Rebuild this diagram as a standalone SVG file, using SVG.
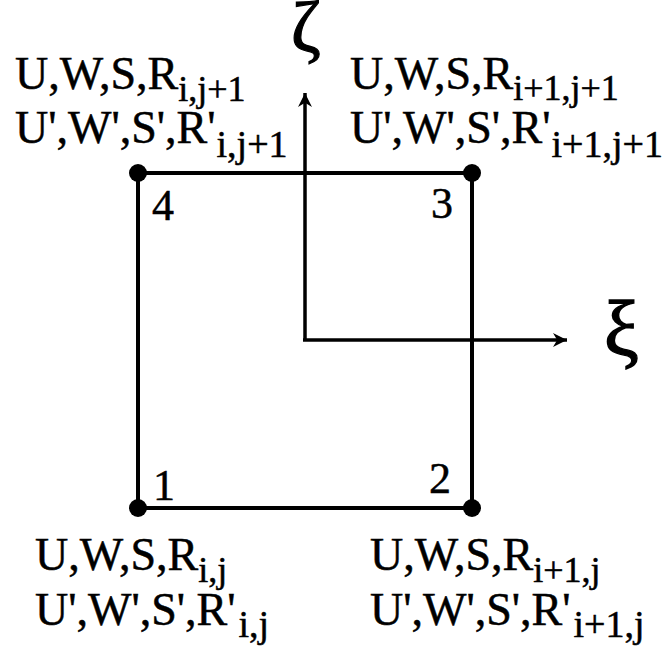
<svg xmlns="http://www.w3.org/2000/svg" width="663" height="653" viewBox="0 0 663 653">
<defs>
<style>
.t{font-family:"Liberation Serif","Times New Roman",serif;fill:#000;stroke:#000;stroke-width:0.5}
.lab{font-size:46px}
.sub1{font-size:36px}
.sub2{font-size:38px}
.num{font-size:44px}
.zeta{font-size:72px;stroke-width:1.2}
.xi{font-size:78px;stroke-width:1.4}
.edge{stroke:#000;stroke-width:4;fill:none}
.axis{stroke:#000;stroke-width:3.5;fill:none}
.dot{fill:#000}
</style>
<marker id="arr" viewBox="0 0 10 10" refX="10" refY="5" markerWidth="4.5" markerHeight="4" markerUnits="strokeWidth" orient="auto">
<path d="M0,0 L10,5 L0,10 L3,5 Z" fill="#000"/>
</marker>
</defs>
<rect width="663" height="653" fill="#fff"/>
<g id="connectors">
<line class="edge" x1="138" y1="173" x2="472" y2="173"/>
<line class="edge" x1="472" y1="173" x2="472" y2="508"/>
<line class="edge" x1="472" y1="508" x2="138" y2="508"/>
<line class="edge" x1="138" y1="508" x2="138" y2="173"/>
<line class="axis" x1="305" y1="340" x2="305" y2="93" marker-end="url(#arr)"/>
<line class="axis" x1="303" y1="340" x2="567" y2="340" marker-end="url(#arr)"/>
</g>
<g id="node4">
<circle class="dot" cx="138" cy="173" r="9"/>
<text class="t num" x="152" y="220">4</text>
<text class="t lab" x="15" y="89">U,W,S,R<tspan class="sub1" dy="12">i,j+1</tspan></text>
<text class="t lab" x="15" y="143">U',W',S',R'<tspan class="sub2" dx="1" dy="14">i,j+1</tspan></text>
</g>
<g id="node3">
<circle class="dot" cx="472" cy="173" r="9"/>
<text class="t num" x="431" y="218">3</text>
<text class="t lab" x="350" y="89">U,W,S,R<tspan class="sub1" dy="11">i+1,j+1</tspan></text>
<text class="t lab" x="350" y="143">U',W',S',R'<tspan class="sub2" dx="1" dy="14">i+1,j+1</tspan></text>
</g>
<g id="node1">
<circle class="dot" cx="138" cy="508" r="9"/>
<text class="t num" x="153" y="500">1</text>
<text class="t lab" x="35" y="570">U,W,S,R<tspan class="sub1" dy="12">i,j</tspan></text>
<text class="t lab" x="35" y="625">U',W',S',R'<tspan class="sub2" dx="3" dy="12">i,j</tspan></text>
</g>
<g id="node2">
<circle class="dot" cx="472" cy="508" r="9"/>
<text class="t num" x="429" y="493">2</text>
<text class="t lab" x="370" y="570">U,W,S,R<tspan class="sub1" dy="12">i+1,j</tspan></text>
<text class="t lab" x="370" y="625">U',W',S',R'<tspan class="sub2" dx="3" dy="12">i+1,j</tspan></text>
</g>
<g id="axes-labels">
<text class="t zeta" x="291" y="51">ζ</text>
<text class="t xi" x="604" y="355">ξ</text>
</g>
</svg>
